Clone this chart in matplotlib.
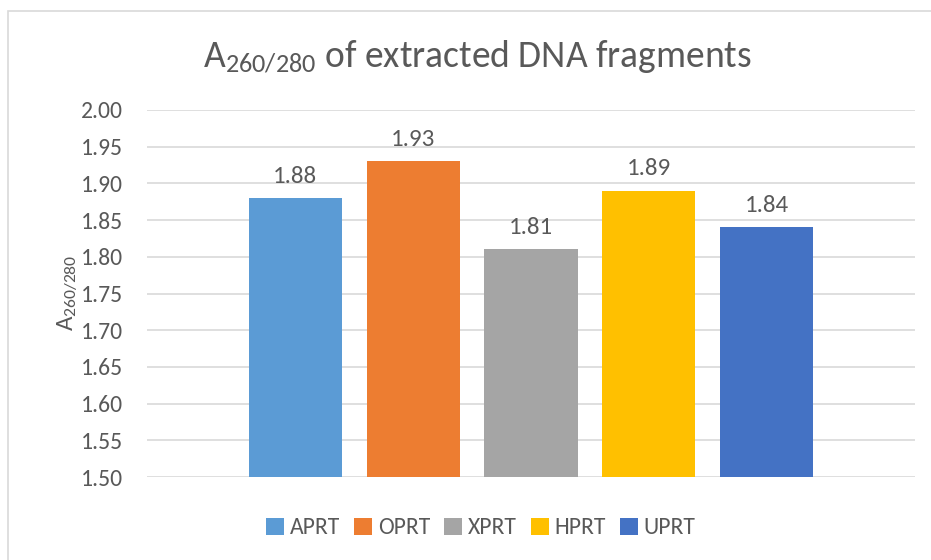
import matplotlib
matplotlib.use("Agg")
import matplotlib.pyplot as plt
from matplotlib.patches import Rectangle

plt.rcParams['font.family'] = ['Carlito', 'Lato', 'DejaVu Sans']
plt.rcParams['mathtext.fontset'] = 'custom'
plt.rcParams['mathtext.rm'] = 'Carlito'
plt.rcParams['mathtext.it'] = 'Carlito'
plt.rcParams['mathtext.default'] = 'rm'

# data
genes = ['APRT', 'OPRT', 'XPRT', 'HPRT', 'UPRT']
ratios = [1.88, 1.93, 1.81, 1.89, 1.84]
colors = ['#5B9BD5', '#ED7D31', '#A5A5A5', '#FFC000', '#4472C4']
yticks = [1.50, 1.55, 1.60, 1.65, 1.70, 1.75, 1.80, 1.85, 1.90, 1.95, 2.00]

text_col = '#595959'
grid_col = '#D9D9D9'

fig = plt.figure(figsize=(9.31, 5.6), dpi=100)
ax = fig.add_axes([147/931, 1 - 477/560, (915-147)/931, (477-110)/560])

# chart border
fig.patches.append(Rectangle((8/931, -0.05), 1.1, 1 - 11/560 + 0.05,
                             transform=fig.transFigure, fill=False,
                             edgecolor=grid_col, linewidth=1.2))

xpos = list(range(len(genes)))
bars = ax.bar(xpos, [r - 1.5 for r in ratios], bottom=1.5, width=0.79,
              color=colors, label=genes, zorder=3)

for x, r in zip(xpos, ratios):
    ax.text(x, r + 0.021, f'{r:.2f}', ha='center', va='baseline',
            fontsize=18, color=text_col)

ax.set_xlim(-1.258, 5.258)
ax.set_ylim(1.5, 2.0)
ax.set_yticks(yticks)
ax.set_yticklabels([f'{t:.2f}' for t in yticks], fontsize=17, color=text_col)
ax.set_xticks([])
ax.tick_params(axis='y', length=0, pad=17)
ax.grid(axis='y', color=grid_col, linewidth=1.2, zorder=0)
for s in ax.spines.values():
    s.set_visible(False)

ax.set_ylabel('A$_{260/280}$', fontsize=18, color=text_col)
ax.yaxis.set_label_coords(80/931, 1 - 293/560, transform=fig.transFigure)

fig.text(477/931, 1 - 57/560, 'A$_{260/280}$ of extracted DNA fragments',
         ha='center', va='center', fontsize=27, color=text_col)

fig.legend(handles=bars, labels=genes, loc='center', bbox_to_anchor=(481/931, 1 - 528/560),
           ncol=5, frameon=False, fontsize=17, handlelength=0.75, handleheight=0.75,
           handletextpad=0.25, columnspacing=0.6, labelcolor=text_col)

fig.savefig('out.png', dpi=100)
